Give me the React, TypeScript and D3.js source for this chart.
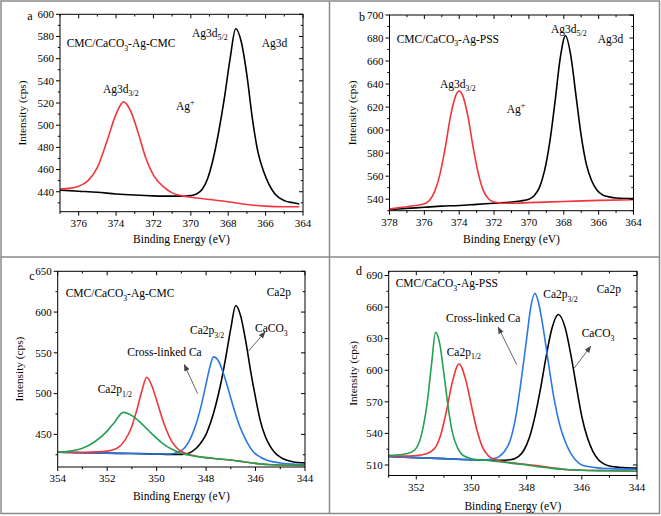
import React from 'react';
import * as d3 from 'd3';

type Pt = [number, number];

// ---------- Panel a : Ag3d, CMC/CaCO3-Ag-CMC ----------
const aRed: Pt[] = [
  [377, 442.5], [376.5, 443], [376, 445], [375.5, 450], [375, 462], [374.5, 485], [374, 510],
  [373.6, 521], [373.2, 512], [372.8, 492], [372.4, 470], [372, 455], [371.5, 445], [371, 439],
  [370.5, 436.5], [370, 435], [369, 433], [368, 431], [367, 428.5], [366, 427], [365, 426.5], [364.2, 426.5],
];
const aBlack: Pt[] = [
  [377, 441.5], [376, 440.5], [375, 439.5], [374, 438], [373, 437], [372, 436.3], [371, 436], [370.5, 436],
  [370, 436.5], [369.7, 438], [369.4, 442], [369.1, 452], [368.8, 470], [368.5, 495], [368.2, 525],
  [367.9, 560], [367.6, 587], [367.3, 575], [367.0, 545], [366.7, 505], [366.4, 475], [366.1, 458],
  [365.8, 446], [365.5, 438], [365.0, 432], [364.5, 430], [364.2, 429],
];
const aXTicks = [376, 374, 372, 370, 368, 366, 364];
const aYTicks = [440, 460, 480, 500, 520, 540, 560, 580, 600];

// ---------- Panel b : Ag3d, CMC/CaCO3-Ag-PSS ----------
const bRed: Pt[] = [
  [378, 531.5], [377.5, 532.5], [377, 533.5], [376.5, 534.5], [376, 536], [375.7, 539], [375.4, 547],
  [375.1, 562], [374.8, 585], [374.5, 612], [374.2, 630], [374, 634], [373.8, 630], [373.5, 612],
  [373.2, 585], [372.9, 562], [372.6, 547], [372.3, 540], [372, 537.5], [371.5, 536.5], [371, 536.5],
  [370, 537], [368, 538], [366, 539], [364, 539.5],
];
const bBlack: Pt[] = [
  [378, 531], [377, 532], [376, 533], [375, 534], [374, 534.5], [373, 535.5], [372, 536.5], [371, 537.5],
  [370.5, 538.5], [370, 540], [369.7, 543], [369.4, 550], [369.1, 565], [368.8, 590], [368.5, 625],
  [368.2, 663], [367.9, 682], [367.6, 665], [367.3, 630], [367.0, 595], [366.7, 570], [366.4, 556],
  [366.1, 548], [365.8, 544], [365.4, 542], [365, 541], [364, 540.5],
];
const bXTicks = [378, 376, 374, 372, 370, 368, 366, 364];
const bYTicks = [540, 560, 580, 600, 620, 640, 660, 680, 700];

// ---------- Panel c : Ca2p, CMC/CaCO3-Ag-CMC ----------
const cGreen: Pt[] = [
  [354, 428], [353.5, 429.5], [353, 433], [352.5, 441], [352, 454], [351.7, 465], [351.35, 477],
  [351, 473], [350.6, 463], [350.2, 451], [349.8, 440], [349.4, 432], [349, 427], [348.5, 423.5],
  [348, 421.5], [347.5, 420], [347, 418.5], [346.5, 416.5], [346, 414.5], [345.5, 413], [345, 412.5], [344, 412],
];
const cRed: Pt[] = [
  [354, 428], [353, 428], [352.5, 428.5], [352, 429.5], [351.6, 433], [351.3, 442], [351, 460],
  [350.8, 480], [350.6, 503], [350.4, 520], [350.2, 510], [350, 492], [349.8, 472], [349.6, 455],
  [349.4, 442], [349.2, 434], [349, 429], [348.5, 424], [348, 421.5], [347.5, 420], [347, 418.5],
  [346.5, 416.5], [346, 414.5], [345.5, 413], [345, 412.5], [344, 412],
];
const cBlue: Pt[] = [
  [354, 428], [353, 427.5], [352, 427], [351, 426.5], [350, 426], [349.5, 426], [349.2, 427.5],
  [349, 430], [348.8, 436], [348.6, 447], [348.4, 463], [348.2, 485], [348, 512], [347.85, 532],
  [347.7, 545], [347.5, 540], [347.3, 525], [347.1, 505], [346.9, 484], [346.7, 465], [346.5, 450],
  [346.3, 438], [346.1, 429], [345.8, 422], [345.5, 418], [345, 415], [344.5, 413.5], [344, 413],
];
const cBlack: Pt[] = [
  [354, 428], [353, 427.5], [352, 427], [351, 426.5], [350, 426], [349.5, 425.5], [349, 425.5],
  [348.7, 427], [348.4, 433], [348.2, 440], [348, 450], [347.8, 466], [347.6, 487], [347.4, 513],
  [347.2, 545], [347, 580], [346.8, 608], [346.6, 595], [346.4, 565], [346.2, 528], [346, 495],
  [345.8, 466], [345.6, 447], [345.4, 435], [345.2, 427], [345, 422], [344.5, 416.5], [344, 415],
];
const cXTicks = [354, 352, 350, 348, 346, 344];
const cYTicks = [450, 500, 550, 600, 650];

// ---------- Panel d : Ca2p, CMC/CaCO3-Ag-PSS ----------
const dGreen: Pt[] = [
  [353, 519], [352.5, 520], [352.2, 522], [352, 526], [351.8, 540], [351.6, 570], [351.45, 605],
  [351.3, 636], [351.15, 625], [351, 597], [350.85, 566], [350.7, 542], [350.5, 526], [350.3, 519],
  [350, 516], [349.5, 514.5], [349, 513], [348.5, 511.5], [348, 510], [347.5, 508], [347, 506.5],
  [346.5, 505.5], [346, 505], [345, 504.5], [344, 504],
];
const dRed: Pt[] = [
  [353, 519], [352.5, 518.5], [352, 519], [351.6, 521], [351.3, 527], [351.1, 540], [350.9, 562],
  [350.7, 588], [350.45, 606], [350.2, 590], [350, 566], [349.8, 543], [349.6, 527], [349.4, 519],
  [349.2, 515.5], [349, 514], [348.5, 512], [348, 510.5], [347.5, 509], [347, 507], [346.5, 505.5],
  [346, 505], [345, 504.5], [344, 504],
];
const dBlue: Pt[] = [
  [353, 518], [352, 517], [351, 516], [350, 515], [349.5, 515], [349.2, 516], [349, 518], [348.8, 523],
  [348.6, 533], [348.4, 555], [348.2, 590], [348, 630], [347.85, 660], [347.7, 673], [347.55, 662],
  [347.4, 640], [347.2, 605], [347, 572], [346.8, 548], [346.6, 532], [346.4, 521], [346.2, 514],
  [346, 510], [345.5, 507.5], [345, 506.5], [344, 506],
];
const dBlack: Pt[] = [
  [353, 518], [352, 517], [351, 516], [350, 515], [349, 514.5], [348.6, 515], [348.3, 518], [348.1, 524],
  [347.9, 536], [347.7, 556], [347.5, 582], [347.3, 612], [347.1, 638], [346.85, 653], [346.6, 640],
  [346.4, 615], [346.2, 585], [346, 556], [345.8, 536], [345.6, 523], [345.4, 515], [345.2, 511],
  [345, 509], [344.5, 507.5], [344, 507],
];
const dXTicks = [352, 350, 348, 346, 344];
const dYTicks = [510, 540, 570, 600, 630, 660, 690];

const RED = '#f0363a';
const BLUE = '#2b78e4';
const GREEN = '#22a150';
const BLACK = '#000000';
const FONT = "'Liberation Serif', 'DejaVu Serif', serif";

type Part = [string, '' | 'sub' | 'sup'];

function Rich({ x, y, parts, size = 11.5 }: { x: number; y: number; parts: Part[]; size?: number }) {
  const out: React.ReactNode[] = [];
  let shift = 0;
  parts.forEach((p, i) => {
    const target = p[1] === 'sub' ? 3.5 : p[1] === 'sup' ? -5 : 0;
    const dy = target - shift;
    shift = target;
    out.push(
      <tspan key={i} dy={dy} style={{ fontSize: p[1] ? size * 0.68 : size }}>
        {p[0]}
      </tspan>
    );
  });
  return (
    <text x={x} y={y} style={{ fontFamily: FONT, fontSize: size }} fill="#000">
      {out}
    </text>
  );
}

interface PanelProps {
  id: string;
  letter: string;
  letterPos: [number, number];
  box: { l: number; r: number; t: number; b: number };
  xDomain: [number, number];
  yDomain: [number, number];
  xTicks: number[];
  yTicks: number[];
  xMinorStep: number;
  yMinorStep: number;
  series: { data: Pt[]; color: string }[];
  yTitleX: number;
  xTitleY: number;
}

function Panel(p: PanelProps) {
  const { l, r, t, b } = p.box;
  const x = d3.scaleLinear().domain(p.xDomain).range([l, r]);
  const y = d3.scaleLinear().domain(p.yDomain).range([b, t]);
  const line = d3
    .line<Pt>()
    .x((d) => x(d[0]))
    .y((d) => y(d[1]))
    .curve(d3.curveMonotoneX);

  const xmin = Math.min(...p.xDomain);
  const xmax = Math.max(...p.xDomain);
  const xMinor: number[] = [];
  for (let v = Math.ceil(xmin / p.xMinorStep) * p.xMinorStep; v <= xmax + 1e-9; v += p.xMinorStep) {
    if (!p.xTicks.some((tk) => Math.abs(tk - v) < 1e-6)) xMinor.push(v);
  }
  const yMinor: number[] = [];
  for (let v = Math.ceil(p.yDomain[0] / p.yMinorStep) * p.yMinorStep; v <= p.yDomain[1] + 1e-9; v += p.yMinorStep) {
    if (!p.yTicks.some((tk) => Math.abs(tk - v) < 1e-6)) yMinor.push(v);
  }
  const M = 4;
  const m = 2.2;
  const tickStyle = { fontFamily: FONT, fontSize: 11 };

  return (
    <g>
      <defs>
        <clipPath id={`clip-${p.id}`}>
          <rect x={l} y={t} width={r - l} height={b - t} />
        </clipPath>
      </defs>
      <g clipPath={`url(#clip-${p.id})`}>
        {p.series.map((s, i) => (
          <path key={i} d={line(s.data) || ''} fill="none" stroke={s.color} strokeWidth={1.6} />
        ))}
      </g>
      <rect x={l} y={t} width={r - l} height={b - t} fill="none" stroke="#000" strokeWidth={1} />
      {p.xTicks.map((v) => (
        <g key={`xt${v}`}>
          <line x1={x(v)} x2={x(v)} y1={b} y2={b + M} stroke="#000" />
          <line x1={x(v)} x2={x(v)} y1={t} y2={t + M} stroke="#000" />
          <text x={x(v)} y={b + 15} textAnchor="middle" style={tickStyle} fill="#000">
            {v}
          </text>
        </g>
      ))}
      {xMinor.map((v) => (
        <g key={`xm${v}`}>
          <line x1={x(v)} x2={x(v)} y1={b} y2={b + m} stroke="#000" />
          <line x1={x(v)} x2={x(v)} y1={t} y2={t + m} stroke="#000" />
        </g>
      ))}
      {p.yTicks.map((v) => (
        <g key={`yt${v}`}>
          <line x1={l - M} x2={l} y1={y(v)} y2={y(v)} stroke="#000" />
          <line x1={r - M} x2={r} y1={y(v)} y2={y(v)} stroke="#000" />
          <text x={l - 6} y={y(v) + 3.8} textAnchor="end" style={tickStyle} fill="#000">
            {v}
          </text>
        </g>
      ))}
      {yMinor.map((v) => (
        <g key={`ym${v}`}>
          <line x1={l - m} x2={l} y1={y(v)} y2={y(v)} stroke="#000" />
          <line x1={r - m} x2={r} y1={y(v)} y2={y(v)} stroke="#000" />
        </g>
      ))}
      <text
        transform={`translate(${p.yTitleX},${(t + b) / 2}) rotate(-90)`}
        textAnchor="middle"
        style={{ fontFamily: FONT, fontSize: 11.3 }}
        fill="#000"
      >
        Intensity (cps)
      </text>
      <text x={(l + r) / 2} y={p.xTitleY} textAnchor="middle" style={{ fontFamily: FONT, fontSize: 11.5 }} fill="#000">
        Binding Energy (eV)
      </text>
      <text x={p.letterPos[0]} y={p.letterPos[1]} textAnchor="middle" style={{ fontFamily: FONT, fontSize: 12 }} fill="#000">
        {p.letter}
      </text>
    </g>
  );
}

function Arrow({ x1, y1, x2, y2 }: { x1: number; y1: number; x2: number; y2: number }) {
  return <line x1={x1} y1={y1} x2={x2} y2={y2} stroke="#666" strokeWidth={1} markerEnd="url(#arrowHead)" />;
}

export default function App() {
  return (
    <svg width={661} height={516} style={{ position: 'absolute', left: 0, top: 0, background: '#fff' }}>
      <defs>
        <marker id="arrowHead" viewBox="0 0 10 10" refX="9" refY="5" markerWidth="7" markerHeight="7" orient="auto">
          <path d="M0,1 L10,5 L0,9 Z" fill="#444" />
        </marker>
      </defs>
      <rect x={0} y={0} width={661} height={516} fill="#fff" />
      <rect x={1} y={1} width={658.5} height={512.5} fill="none" stroke="#8a8a8a" strokeWidth={1.5} />
      <line x1={329.5} x2={329.5} y1={1} y2={514} stroke="#8a8a8a" strokeWidth={1.5} />
      <line x1={1} x2={660} y1={257} y2={257} stroke="#8a8a8a" strokeWidth={1.5} />

      <Panel
        id="a"
        letter="a"
        letterPos={[30, 20]}
        box={{ l: 60, r: 303, t: 14.3, b: 211.7 }}
        xDomain={[377, 364]}
        yDomain={[422, 600]}
        xTicks={aXTicks}
        yTicks={aYTicks}
        xMinorStep={1}
        yMinorStep={10}
        series={[
          { data: aBlack, color: BLACK },
          { data: aRed, color: RED },
        ]}
        yTitleX={26}
        xTitleY={243}
      />
      <Panel
        id="b"
        letter="b"
        letterPos={[362, 21]}
        box={{ l: 389.5, r: 633.5, t: 15, b: 210.7 }}
        xDomain={[378, 364]}
        yDomain={[530, 700]}
        xTicks={bXTicks}
        yTicks={bYTicks}
        xMinorStep={1}
        yMinorStep={10}
        series={[
          { data: bBlack, color: BLACK },
          { data: bRed, color: RED },
        ]}
        yTitleX={356}
        xTitleY={243}
      />
      <Panel
        id="c"
        letter="c"
        letterPos={[32, 280]}
        box={{ l: 57.7, r: 305, t: 271.3, b: 467 }}
        xDomain={[354, 344]}
        yDomain={[410, 650]}
        xTicks={cXTicks}
        yTicks={cYTicks}
        xMinorStep={1}
        yMinorStep={25}
        series={[
          { data: cBlack, color: BLACK },
          { data: cBlue, color: BLUE },
          { data: cRed, color: RED },
          { data: cGreen, color: GREEN },
        ]}
        yTitleX={23}
        xTitleY={500}
      />
      <Panel
        id="d"
        letter="d"
        letterPos={[359, 275]}
        box={{ l: 388.7, r: 637, t: 271.3, b: 475.5 }}
        xDomain={[353, 344]}
        yDomain={[500, 694]}
        xTicks={dXTicks}
        yTicks={dYTicks}
        xMinorStep={1}
        yMinorStep={15}
        series={[
          { data: dBlack, color: BLACK },
          { data: dBlue, color: BLUE },
          { data: dRed, color: RED },
          { data: dGreen, color: GREEN },
        ]}
        yTitleX={357}
        xTitleY={510}
      />

      <Rich x={66.7} y={47} parts={[['CMC/CaCO', ''], ['3', 'sub'], ['-Ag-CMC', '']]} />
      <Rich x={192} y={36.5} parts={[['Ag3d', ''], ['5/2', 'sub']]} />
      <Rich x={261.7} y={47} parts={[['Ag3d', '']]} />
      <Rich x={103} y={92.5} parts={[['Ag3d', ''], ['3/2', 'sub']]} />
      <Rich x={176} y={110} parts={[['Ag', ''], ['+', 'sup']]} />

      <Rich x={396.7} y={42.5} parts={[['CMC/CaCO', ''], ['3', 'sub'], ['-Ag-PSS', '']]} />
      <Rich x={551} y={32.5} parts={[['Ag3d', ''], ['5/2', 'sub']]} />
      <Rich x={597.7} y={42.5} parts={[['Ag3d', '']]} />
      <Rich x={440} y={87.5} parts={[['Ag3d', ''], ['3/2', 'sub']]} />
      <Rich x={506.7} y={112.5} parts={[['Ag', ''], ['+', 'sup']]} />

      <Rich x={65.7} y={297} parts={[['CMC/CaCO', ''], ['3', 'sub'], ['-Ag-CMC', '']]} />
      <Rich x={266.7} y={295.5} parts={[['Ca2p', '']]} />
      <Rich x={255} y={332} parts={[['CaCO', ''], ['3', 'sub']]} />
      <Rich x={190} y={334} parts={[['Ca2p', ''], ['3/2', 'sub']]} />
      <Rich x={127.3} y={355.5} parts={[['Cross-linked Ca', '']]} />
      <Rich x={97.7} y={393} parts={[['Ca2p', ''], ['1/2', 'sub']]} />
      <Arrow x1={197.7} y1={393.7} x2={184.3} y2={364.7} />
      <Arrow x1={248.3} y1={351.3} x2={265} y2={332} />

      <Rich x={395.7} y={287} parts={[['CMC/CaCO', ''], ['3', 'sub'], ['-Ag-PSS', '']]} />
      <Rich x={596.7} y={293} parts={[['Ca2p', '']]} />
      <Rich x={543.3} y={298} parts={[['Ca2p', ''], ['3/2', 'sub']]} />
      <Rich x={446} y={322} parts={[['Cross-linked Ca', '']]} />
      <Rich x={581.7} y={337} parts={[['CaCO', ''], ['3', 'sub']]} />
      <Rich x={446.7} y={355.5} parts={[['Ca2p', ''], ['1/2', 'sub']]} />
      <Arrow x1={516.7} y1={364.7} x2={498.3} y2={327.3} />
      <Arrow x1={574.3} y1={368} x2={590.7} y2={346.3} />
    </svg>
  );
}
